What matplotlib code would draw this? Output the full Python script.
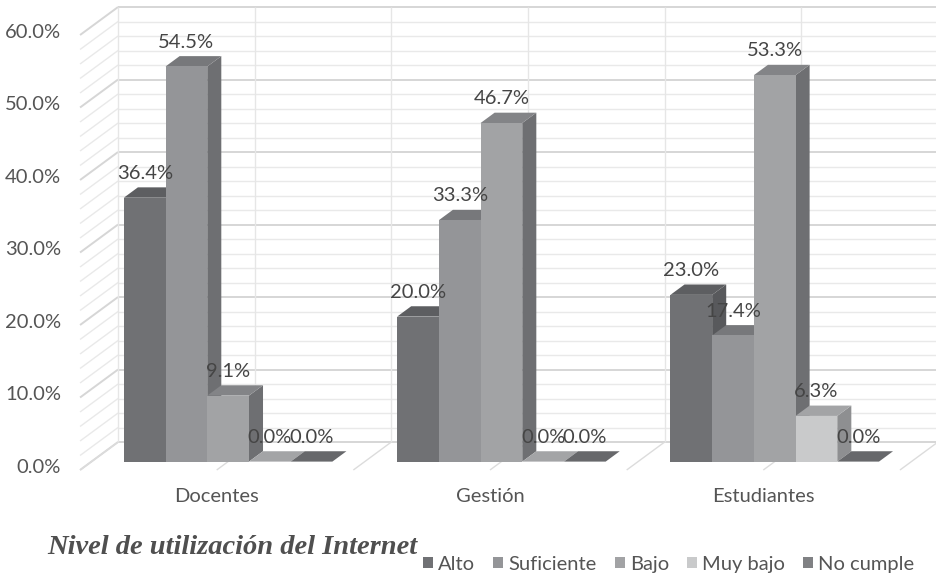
import matplotlib
matplotlib.use("Agg")
import matplotlib.pyplot as plt
from matplotlib.patches import Patch

CATEGORIES = ["Docentes", "Gestión", "Estudiantes"]
SERIES = ["Alto", "Suficiente", "Bajo", "Muy bajo", "No cumple"]
VALUES = {
    "Alto": [36.4, 20.0, 23.0],
    "Suficiente": [54.5, 33.3, 17.4],
    "Bajo": [9.1, 46.7, 53.3],
    "Muy bajo": [0.0, 0.0, 6.3],
    "No cumple": [0.0, 0.0, 0.0],
}
Y_TICKS = [0, 10, 20, 30, 40, 50, 60]
TITLE = "Nivel de utilización del Internet"

# front, top, side shades for each series
FRONT = ["#707174", "#949598", "#a2a3a5", "#c9cacb", "#808184"]
TOP = ["#5d5e61", "#77787b", "#838487", "#a3a4a6", "#67686b"]
SIDE = ["#58595c", "#6e6f72", "#6e6f72", "#8e8f91", "#5f6063"]

# oblique projection: depth z in [0, 1] shifts right and up
DX = 0.139   # category units
DY = 3.86    # percent units
Z0, Z1 = 0.30, 0.67
BW = 0.1526
YMAX = 60

TEXT = "#555555"
LABEL = "#454545"
FONT = ["Lato", "DejaVu Sans"]
FS = 14.5


def proj(x, y, z):
    return x + z * DX, y + z * DY


def poly(ax, pts, color, zorder):
    xs, ys = zip(*[proj(*p) for p in pts])
    ax.fill(xs, ys, color=color, lw=0, zorder=zorder)


def line(ax, p1, p2, color, lw, zorder=1):
    a, b = proj(*p1), proj(*p2)
    ax.plot([a[0], b[0]], [a[1], b[1]], color=color, lw=lw, zorder=zorder,
            solid_capstyle="butt")


fig = plt.figure(figsize=(9.37, 5.73), dpi=100)
ax = fig.add_axes([0, 0, 1, 1])
ax.set_xlim(-0.7929, 2.6355)
ax.set_ylim(-14.207, 64.828)
ax.axis("off")

n = len(CATEGORIES)
left, right = -0.5, n - 0.5

# walls: back wall, left wall, floor
for p in range(0, YMAX + 1, 2):
    major = p % 10 == 0
    c = "#d6d6d6" if major else "#e9e9e9"
    w = 1.4 if major else 1.0
    line(ax, (left, p, 1), (right, p, 1), c, w)
    line(ax, (left, p, 0), (left, p, 1), c, w)
k = 0
while left + k * 0.5 <= right + 1e-9:
    xv = left + k * 0.5
    line(ax, (xv, 0, 1), (xv, YMAX, 1), "#e6e6e6", 1.0)
    line(ax, (xv, 0, 0), (xv, 0, 1), "#dcdcdc", 1.0)
    k += 1

# bars and data labels
gw = BW * len(SERIES)
for i, cat in enumerate(CATEGORIES):
    for j, s in enumerate(SERIES):
        h = VALUES[s][i]
        x0 = i - gw / 2 + j * BW
        x1 = x0 + BW
        zo = 3 + i * 10 + j
        poly(ax, [(x1, 0, Z0), (x1, 0, Z1), (x1, h, Z1), (x1, h, Z0)], SIDE[j], zo)
        poly(ax, [(x0, h, Z0), (x1, h, Z0), (x1, h, Z1), (x0, h, Z1)], TOP[j], zo)
        if h > 0:
            poly(ax, [(x0, 0, Z0), (x1, 0, Z0), (x1, h, Z0), (x0, h, Z0)], FRONT[j], zo)
        lx, _ = proj(x0 + BW / 2, h, Z0)
        ly = h + Z1 * DY + 1.93
        ax.text(lx, ly, f"{h:.1f}%", ha="center", va="center", fontsize=FS,
                color=LABEL, family=FONT, zorder=50)
    ax.text(i, -3.72, cat, ha="center", va="center", fontsize=FS,
            color=TEXT, family=FONT)

# y tick labels
for t in Y_TICKS:
    _, ty = proj(-0.570, t, 0.1)
    ax.text(-0.570, ty, f"{t:.1f}%", ha="right", va="center", fontsize=FS,
            color=TEXT, family=FONT)

fig.text(47 / 937, 1 - 554 / 573, TITLE, ha="left", va="baseline",
         fontsize=20.5, fontstyle="italic", fontweight="bold",
         family=["Liberation Serif", "DejaVu Serif"], color="#4f4f4f")

handles = [Patch(facecolor=FRONT[j], edgecolor="none", label=s)
           for j, s in enumerate(SERIES)]
leg = fig.legend(handles=handles, loc="center", bbox_to_anchor=(0.7135, 0.0155),
                 ncol=5, frameon=False, handlelength=0.5,
                 handleheight=0.5, handletextpad=0.25, columnspacing=0.9,
                 prop={"family": FONT, "size": FS})
for t in leg.get_texts():
    t.set_color(TEXT)

fig.savefig("out.png", dpi=100)
